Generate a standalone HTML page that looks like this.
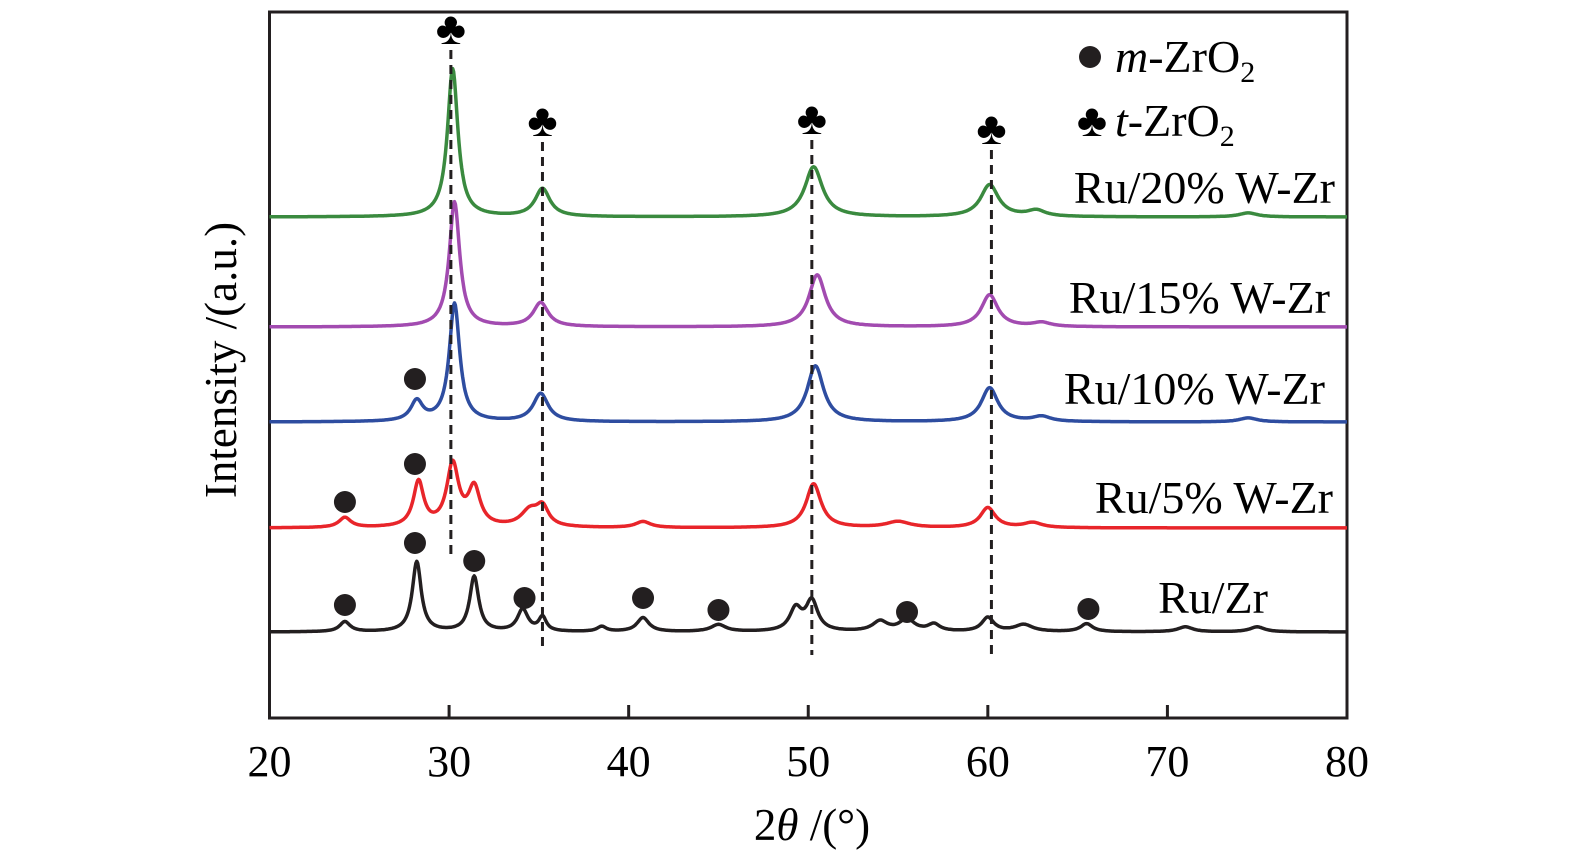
<!DOCTYPE html>
<html><head><meta charset="utf-8"><style>
html,body{margin:0;padding:0;background:#fff;}
svg{display:block;font-family:"Liberation Serif",serif;}
</style></head><body>
<svg id="c" width="1575" height="864" viewBox="0 0 1575 864">
<rect x="269.5" y="12" width="1077.5" height="706" fill="none" stroke="#231f20" stroke-width="3"/>
<g id="ticks"></g><g id="series"></g><g id="marks"></g>
<text x="812" y="840" font-size="45" text-anchor="middle">2<tspan font-style="italic">θ</tspan> /(°)</text>
<text transform="translate(236,360) rotate(-90)" font-size="45" text-anchor="middle">Intensity /(a.u.)</text>
<g>
<circle cx="1090" cy="57" r="11" fill="#231f20"/>
<text x="1115" y="72" font-size="46"><tspan font-style="italic">m</tspan>-ZrO<tspan font-size="30" dy="10">2</tspan></text>
<text x="1092" y="136" font-size="46" text-anchor="middle">♣</text>
<text x="1115" y="136" font-size="46"><tspan font-style="italic">t</tspan>-ZrO<tspan font-size="30" dy="10">2</tspan></text>
</g>
</svg>
<script>
const ticks=[20,30,40,50,60,70,80];
const names=["Ru/Zr","Ru/5% W-Zr","Ru/10% W-Zr","Ru/15% W-Zr","Ru/20% W-Zr"];
const colors=["#231f20","#e8252a","#2e4da0","#a24bb0","#3a8a3f"];
const baselines=[86,190,296,391,501];
const peakPos=[
[24.2,28.2,31.4,34.1,35.2,38.5,40.8,45,49.3,50.2,54,55.5,57,60,62,65.5,71,75],
[24.2,28.3,30.2,31.4,34.5,35.2,40.8,50.3,55,60,62.5],
[28.2,30.3,35.1,50.4,60.1,63,74.5],
[30.3,35.1,50.5,60.1,63],
[30.2,35.2,50.3,60.1,62.7,74.5]];
const peakH=[
[10,70,55,22,14,5,14,7,22,30,10,12,7,14,7,8,5,5],
[10,45,62,38,16,18,6,44,6,20,5],
[20,118,28,56,34,5,4],
[125,24,52,32,4],
[148,28,50,32,6,4]];
const peakW=[
[0.35,0.3,0.3,0.35,0.25,0.3,0.4,0.5,0.4,0.4,0.5,0.5,0.4,0.4,0.6,0.4,0.5,0.5],
[0.4,0.35,0.4,0.4,0.6,0.4,0.5,0.5,0.8,0.5,0.6],
[0.4,0.35,0.5,0.55,0.55,0.6,0.6],
[0.35,0.5,0.55,0.55,0.6],
[0.35,0.5,0.6,0.6,0.6,0.6]];
const labelY=[598,498,389,298,188];
const labelX=[1268,1333,1325,1330,1335];
const dashPos=[30.1,35.2,50.2,60.2];
const dashTop=[50,142,140,150];
const dashBot=[560,650,655,657];
const circX=[24.2,28.1,31.4,34.2,40.8,45,55.5,65.6,24.2,28.1,28.1];
const circY=[605,543,561,598,598,610,612,609,502,464,379];
const NS="http://www.w3.org/2000/svg";
const X=v=>269.5+(v-20)*1077.5/60;
const Y=v=>718-v;
function mk(t,a,p){const e=document.createElementNS(NS,t);for(const k in a)e.setAttribute(k,a[k]);p.appendChild(e);return e;}
const tg=document.getElementById('ticks');
ticks.forEach(t=>{
 if(t>20&&t<80){const l=mk('line',{x1:X(t),x2:X(t),y1:718,y2:705,stroke:'#231f20','stroke-width':3},tg);
 
 }
 const tx=mk('text',{x:X(t),y:776,'font-size':44,'text-anchor':'middle'},tg);tx.textContent=t;
 
 
});
const sg=document.getElementById('series');
names.forEach((n,i)=>{
 let d='';
 for(let x=20;x<=80.001;x+=0.05){
  let v=baselines[i];
  peakPos[i].forEach((p,j)=>{const w=peakW[i][j];v+=peakH[i][j]/(1+((x-p)/w)**2);});
  d+=(d?'L':'M')+X(x).toFixed(1)+' '+Y(v).toFixed(1);
 }
 const p=mk('path',{d:d,fill:'none',stroke:colors[i],'stroke-width':3.5,'stroke-linejoin':'round'},sg);
 
 
 const t=mk('text',{x:labelX[i],y:labelY[i]+15,'font-size':46,'text-anchor':'end'},sg);t.textContent=n;
 
 
});
const mg=document.getElementById('marks');
dashPos.forEach((p,i)=>{
 const l=mk('line',{x1:X(p),x2:X(p),y1:dashTop[i],y2:dashBot[i],stroke:'#231f20','stroke-width':3,'stroke-dasharray':'9 6'},mg);
 
 
 const c=mk('text',{x:X(p),y:dashTop[i]-6,'font-size':46,'text-anchor':'middle'},mg);c.textContent='♣';
 
 
});
circX.forEach((cx,i)=>{
 const c=mk('circle',{cx:X(cx),cy:circY[i],r:11,fill:'#231f20'},mg);
 
 
});
</script>
</body></html>
